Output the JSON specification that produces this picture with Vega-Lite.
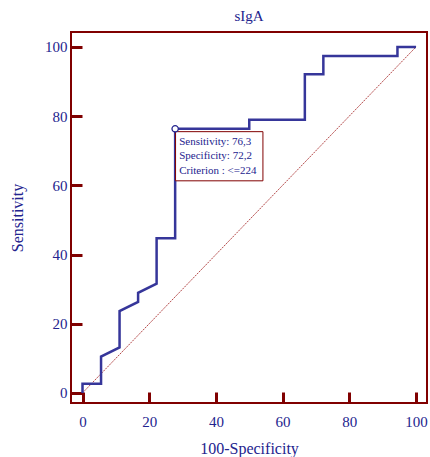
{
  "$schema": "https://vega.github.io/schema/vega-lite/v6.json",
  "width": 356,
  "height": 371,
  "autosize": {"type": "none"},
  "padding": {"left": 71, "top": 32, "right": 3, "bottom": 54},
  "background": "white",
  "title": {"text": "sIgA", "font": "Liberation Serif", "fontSize": 15, "fontWeight": "normal", "color": "#23238e", "offset": 8, "anchor": "middle"},
  "config": {
    "view": {"stroke": "#800000", "strokeWidth": 2},
    "axis": {
      "domain": false, "grid": false,
      "labelFont": "Liberation Serif", "labelFontSize": 15, "labelColor": "#23238e",
      "titleFont": "Liberation Serif", "titleFontSize": 16, "titleFontWeight": "normal", "titleColor": "#23238e",
      "tickColor": "#800000"
    }
  },
  "datasets": {
    "roc": [
      {"i": 0, "fpr": 0, "sens": 0},
      {"i": 1, "fpr": 0, "sens": 2.63},
      {"i": 2, "fpr": 5.56, "sens": 2.63},
      {"i": 3, "fpr": 5.56, "sens": 10.53},
      {"i": 4, "fpr": 11.11, "sens": 13.16},
      {"i": 5, "fpr": 11.11, "sens": 23.68},
      {"i": 6, "fpr": 16.67, "sens": 26.32},
      {"i": 7, "fpr": 16.67, "sens": 28.95},
      {"i": 8, "fpr": 22.22, "sens": 31.58},
      {"i": 9, "fpr": 22.22, "sens": 44.74},
      {"i": 10, "fpr": 27.78, "sens": 44.74},
      {"i": 11, "fpr": 27.78, "sens": 76.32},
      {"i": 12, "fpr": 50, "sens": 76.32},
      {"i": 13, "fpr": 50, "sens": 78.95},
      {"i": 14, "fpr": 66.67, "sens": 78.95},
      {"i": 15, "fpr": 66.67, "sens": 92.11},
      {"i": 16, "fpr": 72.22, "sens": 92.11},
      {"i": 17, "fpr": 72.22, "sens": 97.37},
      {"i": 18, "fpr": 94.44, "sens": 97.37},
      {"i": 19, "fpr": 94.44, "sens": 100},
      {"i": 20, "fpr": 100, "sens": 100}
    ],
    "diag": [{"fpr": 0, "sens": 0}, {"fpr": 100, "sens": 100}],
    "box": [{"x1": 27.9, "x2": 54.1, "y1": 75.5, "y2": 61.3}],
    "labels": [
      {"x": 29.0, "y": 72.6, "t": "Sensitivity: 76,3"},
      {"x": 29.0, "y": 68.5, "t": "Specificity: 72,2"},
      {"x": 29.0, "y": 64.2, "t": "Criterion : <=224"}
    ],
    "point": [{"fpr": 27.78, "sens": 76.32}]
  },
  "layer": [
    {
      "data": {"name": "diag"},
      "mark": {"type": "line", "color": "#a01818", "strokeWidth": 0.8, "strokeDash": [2, 1]},
      "encoding": {
        "x": {"field": "fpr", "type": "quantitative", "scale": {"domain": [-3.45, 103.3], "nice": false, "zero": false},
          "axis": {"title": "100-Specificity", "values": [0,5,10,15,20,25,30,35,40,45,50,55,60,65,70,75,80,85,90,95,100],
            "labelExpr": "datum.value % 20 === 0 ? datum.label : ''",
            "tickSize": {"condition": {"test": "datum.value % 20 === 0", "value": -11}, "value": -6},
            "tickWidth": {"condition": {"test": "datum.value % 20 === 0", "value": 3}, "value": 2},
            "labelPadding": 22, "titlePadding": 11, "labelFlush": false}},
        "y": {"field": "sens", "type": "quantitative", "scale": {"domain": [-2.9, 104.3], "nice": false, "zero": false},
          "axis": {"title": "Sensitivity", "values": [0,5,10,15,20,25,30,35,40,45,50,55,60,65,70,75,80,85,90,95,100],
            "labelExpr": "datum.value % 20 === 0 ? datum.label : ''",
            "tickSize": {"condition": {"test": "datum.value % 20 === 0", "value": -11}, "value": -6},
            "tickWidth": {"condition": {"test": "datum.value % 20 === 0", "value": 3}, "value": 2},
            "labelPadding": 15, "titlePadding": 19, "labelFlush": false}}
      }
    },
    {
      "data": {"name": "roc"},
      "mark": {"type": "line", "color": "#36369a", "strokeWidth": 2.5, "strokeJoin": "miter"},
      "encoding": {
        "x": {"field": "fpr", "type": "quantitative"},
        "y": {"field": "sens", "type": "quantitative"},
        "order": {"field": "i"}
      }
    },
    {
      "data": {"name": "box"},
      "mark": {"type": "rect", "fill": "white", "stroke": "#800000", "strokeWidth": 1},
      "encoding": {
        "x": {"field": "x1", "type": "quantitative"},
        "x2": {"field": "x2"},
        "y": {"field": "y1", "type": "quantitative"},
        "y2": {"field": "y2"}
      }
    },
    {
      "data": {"name": "labels"},
      "mark": {"type": "text", "align": "left", "baseline": "middle", "font": "Liberation Serif", "fontSize": 11, "color": "#23238e"},
      "encoding": {
        "x": {"field": "x", "type": "quantitative"},
        "y": {"field": "y", "type": "quantitative"},
        "text": {"field": "t"}
      }
    },
    {
      "data": {"name": "point"},
      "mark": {"type": "point", "shape": "circle", "filled": true, "fill": "white", "stroke": "#23238e", "strokeWidth": 1.3, "size": 40, "opacity": 1},
      "encoding": {
        "x": {"field": "fpr", "type": "quantitative"},
        "y": {"field": "sens", "type": "quantitative"}
      }
    }
  ]
}
